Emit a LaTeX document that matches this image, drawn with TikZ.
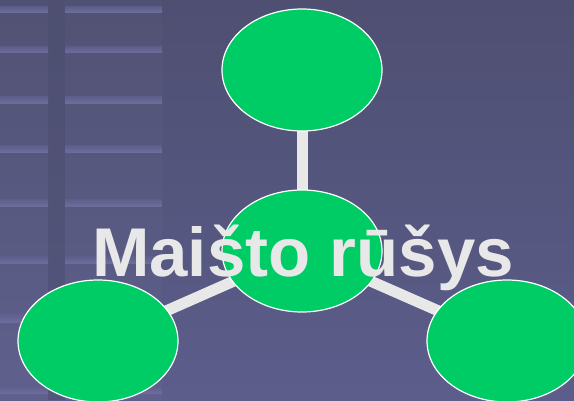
\documentclass[tikz,border=0pt]{standalone}
\usepackage{fontspec}
\setmainfont{Liberation Sans}
\usetikzlibrary{shapes.geometric}
\definecolor{bgtop}{HTML}{4E4F71}
\definecolor{bgbot}{HTML}{5C5D8B}
\definecolor{gridline}{HTML}{6D6E9E}
\definecolor{gridfade}{HTML}{5E5F8A}
\definecolor{strip}{HTML}{4C4E70}
\definecolor{leaf}{HTML}{00CC66}
\definecolor{barc}{HTML}{E8E8E8}
\pgfdeclarelayer{bars}
\pgfsetlayers{bars,main}
\tikzset{
  blob/.style={ellipse, draw=white, line width=1.2pt, fill=leaf, minimum width=160pt, minimum height=122pt, inner sep=0pt},
  bar/.style={draw=barc, line width=11pt},
}
\begin{document}
\begin{tikzpicture}[x=1pt,y=1pt]
\useasboundingbox (0,0) rectangle (574,400);
\begin{pgfonlayer}{bars}
\shade[top color=bgtop, bottom color=bgbot] (0,0) rectangle (574,400);
\fill[white, opacity=0.02] (0,0) rectangle (162,400);
\fill[strip, opacity=0.6] (48,0) rectangle (65,400);
\foreach \y/\h in {10/6, 50/6, 100/7, 149/7, 203/7, 260/7, 318/9, 390/7}{
  \shade[top color=gridfade, bottom color=gridline] (0,400-\y-\h/2) rectangle (48,400-\y+\h/2);
  \shade[top color=gridfade, bottom color=gridline] (65,400-\y-\h/2) rectangle (162,400-\y+\h/2);
}
\end{pgfonlayer}
\node[blob] (c) at (302,149) {};
\node[blob] (t) at (302,330) {};
\node[blob] (l) at (98,59) {};
\node[blob] (r) at (507,59) {};
\begin{pgfonlayer}{bars}
\draw[bar] (t.center) -- (c.center);
\draw[bar] (c.center) -- (l.center);
\draw[bar] (c.center) -- (r.center);
\end{pgfonlayer}
\node[text=barc, font=\fontsize{69}{69}\selectfont\bfseries, inner sep=0pt, anchor=base] (title) at (303,124) {Maišto rūšys};
\end{tikzpicture}
\end{document}
